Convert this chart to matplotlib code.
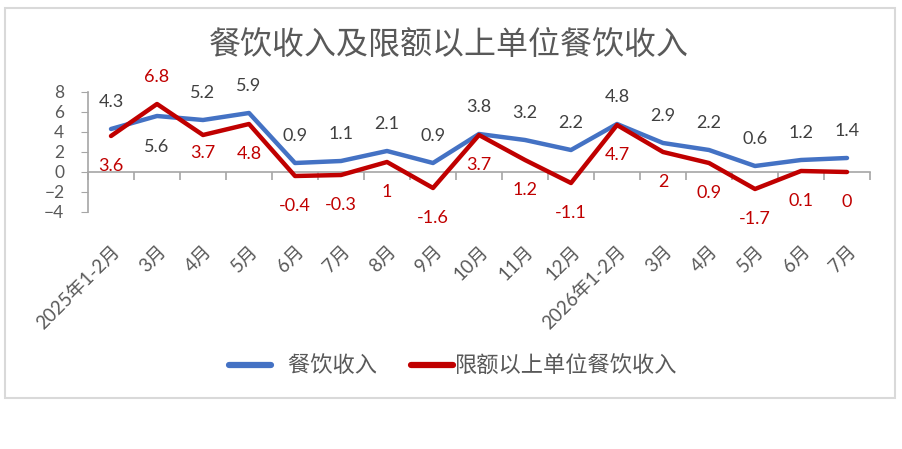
import matplotlib
matplotlib.use("Agg")
import matplotlib.pyplot as plt
from matplotlib.patches import Rectangle

plt.rcParams['font.family'] = ['Lato', 'Noto Sans CJK SC', 'DejaVu Sans']

months = ['2025年1-2月', '3月', '4月', '5月', '6月', '7月', '8月', '9月', '10月',
          '11月', '12月', '2026年1-2月', '3月', '4月', '5月', '6月', '7月']
catering = [4.3, 5.6, 5.2, 5.9, 0.9, 1.1, 2.1, 0.9, 3.8, 3.2, 2.2, 4.8, 2.9, 2.2, 0.6, 1.2, 1.4]
catering_big = [3.6, 6.8, 3.7, 4.8, -0.4, -0.3, 1, -1.6, 3.7, 1.2, -1.1, 4.7, 2, 0.9, -1.7, 0.1, 0]
name_1 = '餐饮收入'
name_2 = '限额以上单位餐饮收入'
title = '餐饮收入及限额以上单位餐饮收入'

blue = '#4472C4'
red = '#C00000'
grey = '#595959'
axis_grey = '#A6A6A6'

fig = plt.figure(figsize=(9.03, 4.49), dpi=100)
fig.patches.append(Rectangle((5 / 903, 1 - 398 / 449), 890 / 903, 390 / 449,
                             transform=fig.transFigure, fill=False,
                             edgecolor='#D9D9D9', linewidth=1.5))
ax = fig.add_axes([88 / 903, 1 - 212 / 449, 782 / 903, 120 / 449])

x = list(range(len(months)))
ax.plot(x, catering, color=blue, lw=3.2, solid_capstyle='round', label='   ' + name_1, zorder=3)
ax.plot(x, catering_big, color=red, lw=3.2, solid_capstyle='round', label=name_2, zorder=4)

# data labels (offsets in points, mostly above for blue / below for red)
off_blue = [19.5] * len(x)
off_blue[1] = -22
off_red = [-21.5] * len(x)
off_red[1] = 19.5
off_red[2] = -13
for i in x:
    ax.annotate(f'{catering[i]:g}', (i, catering[i]), xytext=(0, off_blue[i]),
                textcoords='offset points', ha='center', va='center',
                fontsize=13, color='#404040')
    ax.annotate(f'{catering_big[i]:g}', (i, catering_big[i]), xytext=(0, off_red[i]),
                textcoords='offset points', ha='center', va='center',
                fontsize=13, color=red)

ax.set_xlim(-0.5, len(x) - 0.5)
ax.set_ylim(-4, 8)
ax.set_yticks(range(-4, 9, 2))
ax.tick_params(axis='y', direction='out', length=5, color=axis_grey,
               labelsize=12.5, labelcolor=grey, pad=12)
ax.set_xticks(x)
ax.set_xticklabels(months, rotation=45, ha='right', rotation_mode='anchor',
                   fontsize=13.5, color=grey)
ax.tick_params(axis='x', length=0, pad=22)

for s in ['top', 'right', 'bottom']:
    ax.spines[s].set_visible(False)
ax.spines['left'].set_color(axis_grey)
ax.spines['left'].set_linewidth(1.2)

# category axis crossing at zero
zero_ax = ax.secondary_xaxis(1 / 3)
zero_ax.set_xticks([i - 0.5 for i in range(len(x) + 1)])
zero_ax.set_xticklabels([])
zero_ax.tick_params(direction='out', length=6, color=axis_grey, width=1.2)
zero_ax.spines['bottom'].set_color(axis_grey)
zero_ax.spines['bottom'].set_linewidth(1.2)

fig.text(0.497, 0.9, title, ha='center', va='center', fontsize=23, color=grey,
         family=['Noto Sans CJK SC', 'DejaVu Sans'])

leg = fig.legend(loc='center', bbox_to_anchor=(0.502, 0.185), ncol=2, frameon=False,
                 handlelength=1.9, handletextpad=0.1, columnspacing=1.5,
                 prop={'family': ['Noto Sans CJK SC', 'DejaVu Sans'], 'size': 16})
for t in leg.get_texts():
    t.set_color(grey)
for h in leg.get_lines():
    h.set_linewidth(4.5)

fig.savefig('out.png', dpi=100)
